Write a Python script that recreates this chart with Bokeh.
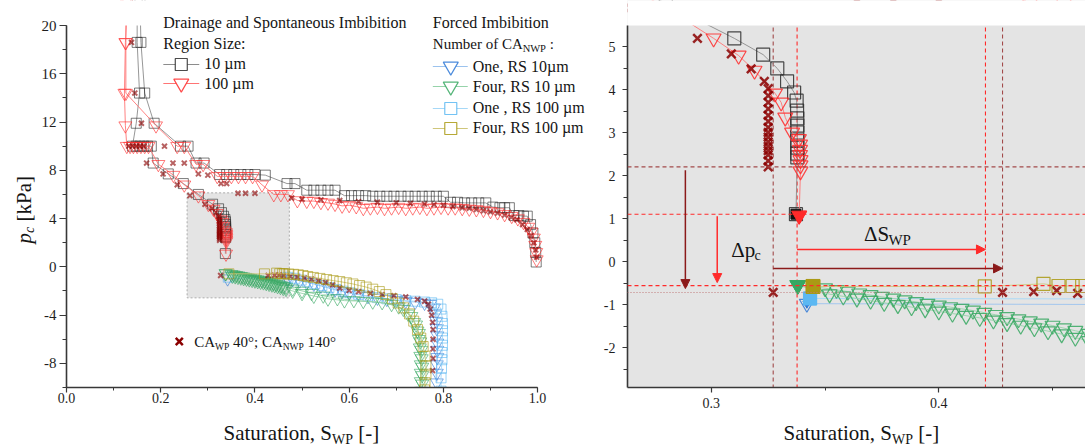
import math
from bokeh.plotting import figure
from bokeh.layouts import row, column
from bokeh.models import (Label, Span, Arrow, NormalHead, SingleIntervalTicker,
                          PrintfTickFormatter)
from bokeh.embed import file_html
from bokeh.resources import INLINE

FONT = "Liberation Serif"

# ---------------- data (saturation S_WP, capillary pressure p_c in kPa) ----------------
d10 = [(0.997, 0.4), (0.996, 1.2), (0.994, 2.0), (0.990, 2.8), (0.985, 3.5), (0.978, 4.2),
       (0.970, 4.2), (0.960, 4.25), (0.950, 4.25), (0.940, 4.9), (0.930, 4.9), (0.920, 4.9),
       (0.905, 4.95), (0.890, 5.3), (0.875, 5.3), (0.860, 5.3), (0.845, 5.3), (0.830, 5.35),
       (0.815, 5.35), (0.800, 5.85), (0.785, 5.85), (0.770, 5.85), (0.755, 5.85), (0.740, 5.85),
       (0.725, 5.85), (0.710, 5.85), (0.695, 5.85), (0.680, 5.85), (0.665, 5.85), (0.650, 5.85),
       (0.635, 5.9), (0.620, 5.9), (0.605, 5.9), (0.590, 5.9), (0.570, 6.35), (0.555, 6.35),
       (0.540, 6.35), (0.525, 6.35), (0.510, 6.35), (0.485, 6.9), (0.468, 6.9), (0.422, 7.6),
       (0.400, 7.65), (0.385, 7.65), (0.370, 7.65), (0.355, 7.65), (0.340, 7.65), (0.325, 7.65),
       (0.292, 8.6), (0.275, 8.6), (0.258, 10.0), (0.242, 10.0), (0.186, 11.9), (0.166, 14.4),
       (0.158, 18.6), (0.156, 22.0)]
i10 = [(0.150, 22.0), (0.150, 18.6), (0.155, 14.4), (0.148, 11.9), (0.140, 10.0), (0.148, 10.0),
       (0.156, 10.0), (0.164, 10.0), (0.172, 10.0), (0.180, 10.0), (0.184, 8.6), (0.216, 7.7),
       (0.248, 6.9), (0.280, 6.0), (0.3101, 5.19), (0.3228, 4.81), (0.3290, 4.49), (0.3333, 4.19),
       (0.3364, 3.93), (0.3375, 3.74), (0.3377, 3.51), (0.3378, 3.33), (0.3378, 3.16),
       (0.3378, 3.00), (0.3378, 2.81), (0.3378, 2.65), (0.3378, 2.51), (0.3378, 2.42),
       (0.3372, 1.10)]
d100 = [(0.998, 0.6), (0.997, 1.2), (0.995, 1.8), (0.992, 2.4), (0.987, 2.9), (0.980, 3.3),
        (0.970, 3.7), (0.958, 4.0), (0.945, 4.2), (0.930, 4.35), (0.915, 4.5), (0.900, 4.6),
        (0.885, 4.7), (0.870, 4.75), (0.855, 4.8), (0.840, 4.85), (0.825, 4.9), (0.810, 4.9),
        (0.795, 4.95), (0.780, 4.9), (0.765, 4.85), (0.750, 4.95), (0.735, 4.9), (0.720, 4.85),
        (0.705, 4.95), (0.690, 4.9), (0.675, 4.85), (0.660, 4.95), (0.645, 4.9), (0.630, 4.85),
        (0.615, 5.0), (0.600, 5.1), (0.585, 5.05), (0.570, 5.2), (0.555, 5.3), (0.540, 5.35),
        (0.525, 5.45), (0.510, 5.45), (0.490, 5.5), (0.470, 6.0), (0.455, 6.0), (0.440, 6.0),
        (0.415, 6.8), (0.395, 7.5), (0.380, 7.5), (0.365, 7.5), (0.350, 7.5), (0.335, 7.5),
        (0.320, 7.5), (0.290, 8.5), (0.275, 8.5), (0.250, 10.0), (0.235, 10.0), (0.190, 11.7),
        (0.126, 14.4), (0.126, 18.6), (0.126, 22.0)]
i100 = [(0.130, 22.0), (0.125, 18.6), (0.123, 14.4), (0.125, 11.7), (0.128, 10.0), (0.135, 10.0),
        (0.142, 10.0), (0.150, 10.0), (0.158, 10.0), (0.166, 10.0), (0.174, 10.0), (0.195, 8.5),
        (0.227, 7.6), (0.250, 6.8), (0.280, 5.9), (0.3010, 5.19), (0.3120, 4.79), (0.3190, 4.44),
        (0.3280, 3.91), (0.3307, 3.70), (0.3325, 3.35), (0.3355, 3.00), (0.3385, 2.85),
        (0.3390, 2.72), (0.3390, 2.60), (0.3390, 2.48), (0.3392, 2.36), (0.3392, 2.24),
        (0.3392, 2.10), (0.3386, 1.07)]
dca = [(0.998, 0.8), (0.996, 1.4), (0.992, 2.0), (0.986, 2.6), (0.978, 3.1), (0.968, 3.5),
       (0.956, 3.9), (0.944, 4.1), (0.930, 4.3), (0.915, 4.45), (0.900, 4.55), (0.885, 4.65),
       (0.870, 4.75), (0.855, 4.85), (0.840, 4.9), (0.820, 5.0), (0.800, 5.1), (0.780, 5.15),
       (0.760, 5.2), (0.730, 5.25), (0.700, 5.3), (0.660, 5.35), (0.620, 5.4), (0.580, 5.5),
       (0.540, 5.55), (0.500, 5.6), (0.478, 5.7), (0.400, 6.1), (0.380, 6.1), (0.364, 6.1),
       (0.340, 6.9), (0.328, 6.9), (0.300, 7.6), (0.280, 7.7), (0.250, 8.6), (0.226, 8.6),
       (0.208, 10.0), (0.159, 11.9), (0.145, 14.4), (0.138, 18.6)]
ica = [(0.132, 10.0), (0.140, 10.0), (0.148, 10.0), (0.156, 10.0), (0.164, 10.0), (0.170, 8.6),
       (0.205, 7.7), (0.235, 6.8), (0.262, 5.9), (0.2939, 5.19), (0.3088, 4.83), (0.3175, 4.48),
       (0.3233, 4.19), (0.3250, 4.02), (0.3250, 3.86), (0.3250, 3.70), (0.3250, 3.55),
       (0.3250, 3.40), (0.3250, 3.26), (0.3250, 3.12), (0.3250, 3.00), (0.3250, 2.89),
       (0.3250, 2.78), (0.3250, 2.68), (0.3250, 2.58), (0.3250, 2.48), (0.3250, 2.34),
       (0.3250, 2.20)]
fca = [(0.3272, -0.72), (0.4280, -0.72), (0.4417, -0.70), (0.4518, -0.68), (0.4610, -0.74),
       (0.475, -0.78), (0.490, -0.84), (0.505, -0.92), (0.520, -1.02), (0.535, -1.15),
       (0.550, -1.30), (0.565, -1.50), (0.580, -1.75), (0.600, -1.95), (0.620, -2.05),
       (0.645, -2.20), (0.670, -2.30), (0.695, -2.40), (0.720, -2.50), (0.745, -2.70),
       (0.760, -2.85), (0.768, -3.10), (0.772, -3.50), (0.775, -4.00), (0.777, -4.60),
       (0.778, -5.20), (0.778, -6.00), (0.778, -6.80), (0.778, -7.60), (0.777, -8.60)]
f1_10 = [(0.3420, -0.98), (0.470, -1.00), (0.480, -1.05), (0.495, -1.15), (0.510, -1.28),
         (0.525, -1.42), (0.540, -1.58), (0.555, -1.74), (0.570, -1.90), (0.585, -2.04),
         (0.600, -2.16), (0.620, -2.30), (0.640, -2.45), (0.660, -2.58), (0.680, -2.68),
         (0.700, -2.76), (0.720, -2.84), (0.740, -2.92), (0.760, -3.00), (0.772, -3.10),
         (0.780, -3.40), (0.783, -3.90), (0.785, -4.50), (0.786, -5.10), (0.787, -5.70),
         (0.787, -6.30), (0.787, -6.90), (0.787, -7.50), (0.786, -8.10), (0.786, -8.80),
         (0.786, -9.60)]
f4_10a = [(0.3380, -0.55), (0.350, -0.62), (0.355, -0.66), (0.360, -0.70), (0.365, -0.74),
          (0.370, -0.78), (0.375, -0.82), (0.380, -0.86), (0.385, -0.90), (0.390, -0.94),
          (0.395, -0.98), (0.400, -1.02), (0.405, -1.06), (0.410, -1.10), (0.415, -1.14),
          (0.420, -1.19), (0.425, -1.24), (0.430, -1.29), (0.435, -1.34), (0.440, -1.39),
          (0.445, -1.44), (0.450, -1.49), (0.455, -1.55), (0.460, -1.61), (0.466, -1.68),
          (0.480, -1.82), (0.500, -2.00), (0.520, -2.18), (0.545, -2.40), (0.575, -2.62),
          (0.610, -2.78), (0.650, -2.90), (0.690, -3.10), (0.715, -3.50), (0.732, -4.10),
          (0.742, -4.80), (0.748, -5.50), (0.751, -6.20), (0.753, -6.90), (0.754, -7.60),
          (0.755, -8.30), (0.755, -9.00), (0.755, -9.70), (0.755, -10.3)]
f4_10b = [(0.3380, -0.55), (0.352, -0.76), (0.358, -0.81), (0.364, -0.86), (0.370, -0.91),
          (0.376, -0.96), (0.382, -1.01), (0.388, -1.06), (0.394, -1.11), (0.400, -1.16),
          (0.406, -1.21), (0.412, -1.26), (0.418, -1.31), (0.424, -1.37), (0.430, -1.43),
          (0.436, -1.49), (0.442, -1.55), (0.448, -1.62), (0.454, -1.69), (0.460, -1.77),
          (0.466, -1.85), (0.480, -2.00), (0.500, -2.20), (0.525, -2.42), (0.555, -2.65),
          (0.590, -2.80), (0.630, -2.85), (0.670, -2.95), (0.705, -3.30), (0.725, -3.90),
          (0.738, -4.60), (0.745, -5.30), (0.748, -6.00), (0.750, -6.70), (0.751, -7.40),
          (0.752, -8.10), (0.752, -8.80), (0.752, -9.50), (0.752, -10.3)]
f1_100 = [(0.3434, -0.86), (0.470, -0.87), (0.485, -0.95), (0.498, -1.10), (0.512, -1.25),
          (0.527, -1.40), (0.542, -1.55), (0.557, -1.72), (0.572, -1.88), (0.587, -2.02),
          (0.602, -2.15), (0.620, -2.28), (0.640, -2.42), (0.660, -2.55), (0.680, -2.65),
          (0.700, -2.72), (0.720, -2.80), (0.740, -2.85), (0.760, -2.92), (0.775, -2.98),
          (0.788, -3.10), (0.795, -3.50), (0.797, -4.10), (0.798, -4.70), (0.798, -5.30),
          (0.798, -5.90), (0.798, -6.50), (0.797, -7.10), (0.797, -7.70), (0.796, -8.40),
          (0.795, -9.20), (0.795, -10.3)]
f4_100 = [(0.3447, -0.58), (0.4202, -0.58), (0.446, -0.52), (0.4526, -0.57), (0.4588, -0.57),
          (0.4630, -0.57), (0.472, -0.60), (0.482, -0.62), (0.492, -0.66), (0.502, -0.72),
          (0.512, -0.80), (0.524, -0.88), (0.538, -0.96), (0.552, -1.05), (0.566, -1.14),
          (0.580, -1.22), (0.594, -1.32), (0.608, -1.42), (0.622, -1.55), (0.636, -1.68),
          (0.650, -1.85), (0.664, -2.05), (0.678, -2.30), (0.692, -2.65), (0.704, -3.00),
          (0.716, -3.40), (0.728, -3.90), (0.737, -4.50), (0.745, -5.20), (0.752, -5.90),
          (0.757, -6.60), (0.761, -7.40), (0.763, -8.20), (0.763, -8.90), (0.761, -9.60),
          (0.760, -10.2)]

ZOOM_BOX = dict(left=0.256, right=0.473, bottom=-2.57, top=6.13)
PC_SPONT_CA, PC_SPONT_RS, PC_FORCED_RS, PC_FORCED_CA = 2.2, 1.1, -0.56, -0.72
S_SPONT_CA, S_SPONT_RS, S_FORCED_RS, S_FORCED_CA = 0.3272, 0.3377, 0.4205, 0.428

STY = {
    "10": dict(marker="square", color="#2b2b2b", line="#8c8c8c"),
    "100": dict(marker="inverted_triangle", color="#ff2a2a", line="#ff7474"),
    "ca": dict(marker="x", color="#8b0000", line=None),
    "one10": dict(marker="inverted_triangle", color="#2e78d6", line="#9cc3ee"),
    "four10": dict(marker="inverted_triangle", color="#37a862", line="#96d3aa"),
    "one100": dict(marker="square", color="#5cb8f2", line="#a6d8f7"),
    "four100": dict(marker="square", color="#aa9a14", line="#cfc67a"),
}
SIZE_L = {"square": 10, "inverted_triangle": 13, "x": 7}
SIZE_R = {"square": 13, "inverted_triangle": 15, "x": 12}

WID = {" ": 250, ",": 250, ".": 250, ":": 278, ";": 278, "-": 333, "[": 333, "]": 333,
       "\u00b0": 400, "A": 722, "C": 667, "D": 722, "F": 556, "I": 333, "N": 722, "O": 722,
       "P": 556, "R": 667, "S": 556, "W": 944, "a": 444, "b": 500, "c": 444, "d": 500,
       "e": 444, "f": 333, "g": 500, "i": 278, "k": 500, "m": 778, "n": 500, "o": 500,
       "p": 500, "r": 333, "s": 389, "t": 278, "u": 500, "z": 444, "\u00b5": 500,
       "\u0394": 612}
MID = 0.3375          # distance (in em) from baseline up to the middle of the text box

H_MAIN = 420          # height of the chart row
B_BOT = 33            # bottom border (shared by every figure of the row)
W_YLAB = 38           # width of the strip holding the y-axis title


def tw(s, size):
    return sum(WID.get(c, 500) for c in s) * size / 1000.0


def make_conv(fx0, fx1, fy0, fy1, xr, yr):
    def conv(px, py):
        x = xr[0] + (px - fx0) / (fx1 - fx0) * (xr[1] - xr[0])
        y = yr[1] - (py - fy0) / (fy1 - fy0) * (yr[1] - yr[0])
        return x, y
    return conv


def rich(fig, conv, px, py, pieces, angle=0.0, color="#141414"):
    """Text pieces (with subscripts); (px, py) = baseline start in page pixels."""
    for txt, size, shift, style in pieces:
        lead = len(txt) - len(txt.lstrip(" "))
        core = txt.strip(" ")
        trail = len(txt) - lead - len(core)
        adv = lead * WID[" "] * size / 1000.0
        if angle == 0:
            px += adv
        else:
            py -= adv
        if core:
            if angle == 0:
                qx, qy = px, py + shift - MID * size
            else:
                qx, qy = px + shift - MID * size, py
            x, y = conv(qx, qy)
            fig.add_layout(Label(x=x, y=y, text=core, text_font=FONT,
                                 text_font_size=f"{size}px", text_font_style=style,
                                 text_color=color, text_align="left",
                                 text_baseline="middle", angle=angle))
        w = tw(core, size) + trail * WID[" "] * size / 1000.0
        if angle == 0:
            px += w
        else:
            py -= w


def style_axes(fig, xint, yint, xfmt, yfmt, ylab_size, xlab_size, ytick_out, ystand, xstand):
    fig.xaxis.ticker = SingleIntervalTicker(interval=xint, num_minor_ticks=2)
    fig.yaxis.ticker = SingleIntervalTicker(interval=yint, num_minor_ticks=2)
    fig.xaxis.formatter = PrintfTickFormatter(format=xfmt)
    fig.yaxis.formatter = PrintfTickFormatter(format=yfmt)
    for ax in (fig.xaxis, fig.yaxis):
        ax.axis_line_color = "#383838"
        ax.axis_line_width = 1.6
        ax.major_tick_line_color = "#383838"
        ax.minor_tick_line_color = "#383838"
        ax.major_tick_line_width = 1.2
        ax.minor_tick_line_width = 1.0
        ax.major_tick_in = 0
        ax.minor_tick_in = 0
        ax.major_label_text_font = FONT
        ax.major_label_text_color = "#1e1e1e"
    fig.yaxis.major_tick_out = ytick_out
    fig.yaxis.minor_tick_out = 4
    fig.xaxis.major_tick_out = 5
    fig.xaxis.minor_tick_out = 3
    fig.yaxis.major_label_text_font_size = f"{ylab_size}px"
    fig.xaxis.major_label_text_font_size = f"{xlab_size}px"
    fig.yaxis.major_label_standoff = ystand
    fig.xaxis.major_label_standoff = xstand
    fig.xgrid.visible = False
    fig.ygrid.visible = False
    fig.outline_line_color = None


def draw(fig, pts, key, sizes, alpha, mlw, xlw):
    sty = STY[key]
    s = [a for a, b in pts]
    pc = [b for a, b in pts]
    if sty["line"]:
        fig.line(s, pc, line_color=sty["line"], line_width=1.0, line_alpha=0.9)
    lw = xlw if sty["marker"] == "x" else mlw
    fig.scatter(s, pc, marker=sty["marker"], size=sizes[sty["marker"]],
                line_color=sty["color"], fill_color=None, line_alpha=alpha, line_width=lw)


def text_strip(w, h, yr, bottom=0):
    f = figure(width=w, height=h, x_range=(0, w), y_range=yr, output_backend="svg",
               toolbar_location=None, x_axis_location=None, y_axis_location=None, title=None,
               min_border=0, min_border_left=0, min_border_right=0, min_border_top=0,
               min_border_bottom=bottom, background_fill_color="white",
               border_fill_color="white")
    f.xgrid.visible = False
    f.ygrid.visible = False
    f.outline_line_color = None
    return f


SERIES = [(d10, "10"), (i10, "10"), (d100, "100"), (i100, "100"), (dca, "ca"), (ica, "ca"),
          (f1_10, "one10"), (f1_100, "one100"), (f4_10a, "four10"), (f4_10b, "four10"),
          (fca, "ca"), (f4_100, "four100")]

# ---------------- left panel ----------------
# frame spans page x 65..600 and y 0..387; axes are bounded to the real data window
PXU, PYU = 472.0, 362.0 / 30.0
LX = (0.0, (600 - 65) / PXU)
LY = (-10.0, -10.0 + 387 / PYU)
p1 = figure(width=600 - W_YLAB, height=H_MAIN, x_range=LX, y_range=LY, output_backend="svg",
            toolbar_location=None, title=None, min_border_left=65 - W_YLAB, min_border_right=0,
            min_border_top=0, min_border_bottom=B_BOT, background_fill_color="white",
            border_fill_color="white")
style_axes(p1, 0.2, 4, "%.1f", "%d", 15, 14, 7, 3, 0)
p1.xaxis.bounds = (0, 1)
p1.yaxis.bounds = (-10, 20)
cl = make_conv(65, 600, 0, 387, LX, LY)

p1.quad(left=ZOOM_BOX["left"], right=ZOOM_BOX["right"], bottom=ZOOM_BOX["bottom"],
        top=ZOOM_BOX["top"], fill_color="#e4e4e4", line_color="#ababab",
        line_dash="2 2", line_width=1)
for pts, key in SERIES:
    draw(p1, pts, key, SIZE_L, 0.62, 1.0, 2.0)
# nothing is drawn above the axis top (p_c = 20 kPa)
p1.quad(left=LX[0] - 1, right=LX[1] + 1, bottom=20, top=LY[1] + 5, fill_color="white",
        line_color=None)


def leg_sample(fig, conv, key, px, py, x0, x1, size):
    sty = STY[key]
    (ax, ay), (bx, by) = conv(x0, py), conv(x1, py)
    fig.line([ax, bx], [ay, by], line_color=sty["line"], line_width=1.2)
    mx, my = conv(px, py)
    fig.scatter([mx], [my], marker=sty["marker"], size=size, line_color=sty["color"],
                fill_color="white", line_width=1.2, line_alpha=0.85)


leg_sample(p1, cl, "10", 180, 64, 162, 198, 12)
leg_sample(p1, cl, "100", 180, 83, 162, 198, 15)
rich(p1, cl, 162, 27.5, [("Drainage and Spontaneous Imbibition", 16, 0, "normal")])
rich(p1, cl, 162, 48.3, [("Region Size:", 16, 0, "normal")])
rich(p1, cl, 203, 68.5, [("10 \u00b5m", 16, 0, "normal")])
rich(p1, cl, 203, 88.5, [("100 \u00b5m", 16, 0, "normal")])

leg_sample(p1, cl, "one10", 450, 66, 432, 467, 15)
leg_sample(p1, cl, "four10", 450, 86, 432, 467, 15)
leg_sample(p1, cl, "one100", 450, 108, 432, 467, 12)
leg_sample(p1, cl, "four100", 450, 128, 432, 467, 12)
rich(p1, cl, 432, 27.5, [("Forced Imbibition", 16, 0, "normal")])
rich(p1, cl, 432, 48.3, [("Number of CA", 15, 0, "normal"), ("NWP", 10.5, 3.5, "normal"),
                         (" :", 15, 0, "normal")])
rich(p1, cl, 472, 71.7, [("One, RS 10\u00b5m", 16, 0, "normal")])
rich(p1, cl, 472, 91.7, [("Four, RS 10 \u00b5m", 16, 0, "normal")])
rich(p1, cl, 472, 112.0, [("One , RS 100 \u00b5m", 16, 0, "normal")])
rich(p1, cl, 472, 132.5, [("Four, RS 100 \u00b5m", 16, 0, "normal")])

mx, my = cl(178, 341)
p1.scatter([mx], [my], marker="x", size=10, line_color=STY["ca"]["color"], line_width=2.5)
rich(p1, cl, 193, 346.5, [("CA", 15, 0, "normal"), ("WP", 9.5, 3, "normal"),
                          (" 40\u00b0; CA", 15, 0, "normal"), ("NWP", 9.5, 3, "normal"),
                          (" 140\u00b0", 15, 0, "normal")])

# ---------------- y-axis title strip ----------------
yfig = text_strip(W_YLAB, H_MAIN, (B_BOT, H_MAIN), bottom=B_BOT)
cy = lambda px, py: (px, H_MAIN - py)
rich(yfig, cy, 31, 243, [("p", 21, 0, "italic"), ("c", 14, 3, "italic"),
                         (" [kPa]", 21, 0, "normal")], angle=math.pi / 2)

# ---------------- right panel (zoom) ----------------
RX, RY_WIN = (0.26316, 0.46447), (-2.9302, 5.4884)
RY = (RY_WIN[0], RY_WIN[1] + 25 * (RY_WIN[1] - RY_WIN[0]) / 362.0)
p2 = figure(width=485, height=H_MAIN, x_range=RX, y_range=RY, output_backend="svg",
            toolbar_location=None, title=None, min_border_left=26, min_border_right=0,
            min_border_top=0, min_border_bottom=B_BOT, background_fill_color="#e4e4e4",
            border_fill_color="white")
style_axes(p2, 0.1, 1, "%.1f", "%d", 14, 14, 5, 7, 5)
p2.yaxis.bounds = RY_WIN
cr = make_conv(626, 1085, 0, 387, RX, RY)

RED, DRED = "#ff2a2a", "#a24a4a"
for loc, col, dash in [(PC_SPONT_CA, DRED, "4 3"), (PC_SPONT_RS, RED, "4 3"),
                       (PC_FORCED_RS, RED, "4 3"), (PC_FORCED_CA, "#c07a7a", "1 2")]:
    p2.add_layout(Span(location=loc, dimension="width", line_color=col, line_dash=dash,
                       line_width=1.1))
VLOC = [S_SPONT_CA, S_SPONT_RS, S_FORCED_RS, S_FORCED_CA]
p2.segment(x0=VLOC, x1=VLOC, y0=[RY_WIN[0] - 1] * 4, y1=[RY_WIN[1]] * 4,
           line_color=[DRED, RED, RED, DRED], line_dash="4 3", line_width=1.1)

for pts, key in SERIES:
    draw(p2, pts, key, SIZE_R, 0.85, 1.2, 2.5)

filled = [(i10[-1], "10", 10), (i100[-1], "100", 15), (f1_10[0], "one10", 8),
          (f1_100[0], "one100", 13), (f4_10a[0], "four10", 16), (f4_100[0], "four100", 14)]
for (s, pc), key, sz in filled:
    col = "#111111" if key == "10" else STY[key]["color"]
    p2.scatter([s], [pc], marker=STY[key]["marker"], size=sz, fill_color=col,
               line_color=col, line_width=1)

# the zoom window ends at its top edge: blank band above it
p2.quad(left=RX[0] - 1, right=RX[1] + 1, bottom=RY_WIN[1], top=RY[1] + 2, fill_color="white",
        line_color=None)


def arrow(fig, x0, y0, x1, y1, col):
    fig.add_layout(Arrow(end=NormalHead(size=9, fill_color=col, line_color=col, line_width=1),
                         x_start=x0, y_start=y0, x_end=x1, y_end=y1, line_color=col,
                         line_width=1.5))


arrow(p2, 0.2886, PC_SPONT_CA - 0.08, 0.2886, PC_FORCED_CA + 0.09, "#8b1a1a")
arrow(p2, 0.3026, PC_SPONT_RS - 0.05, 0.3026, PC_FORCED_RS + 0.07, RED)
arrow(p2, S_SPONT_RS, 0.28, S_FORCED_RS, 0.28, RED)
arrow(p2, S_SPONT_CA, -0.16, S_FORCED_CA, -0.16, "#8b1a1a")

rich(p2, cr, 730, 256.7, [("\u0394p", 21, 0, "normal"), ("c", 14, 3, "normal")])
rich(p2, cr, 863, 240.7, [("\u0394S", 21, 0, "normal"), ("WP", 15, 4, "normal")])

# ---------------- x-axis title strip ----------------
xfig = text_strip(1085, 447 - H_MAIN, (0, 447 - H_MAIN))
cx = lambda px, py: (px, 447 - py)
for x0 in (223, 783):
    rich(xfig, cx, x0, 440, [("Saturation, S", 21, 0, "normal"), ("WP", 14, 3.5, "normal"),
                             (" [-]", 21, 0, "normal")])

layout = column(row(yfig, p1, p2), xfig)
open("out.html", "w").write(file_html(layout, INLINE))
